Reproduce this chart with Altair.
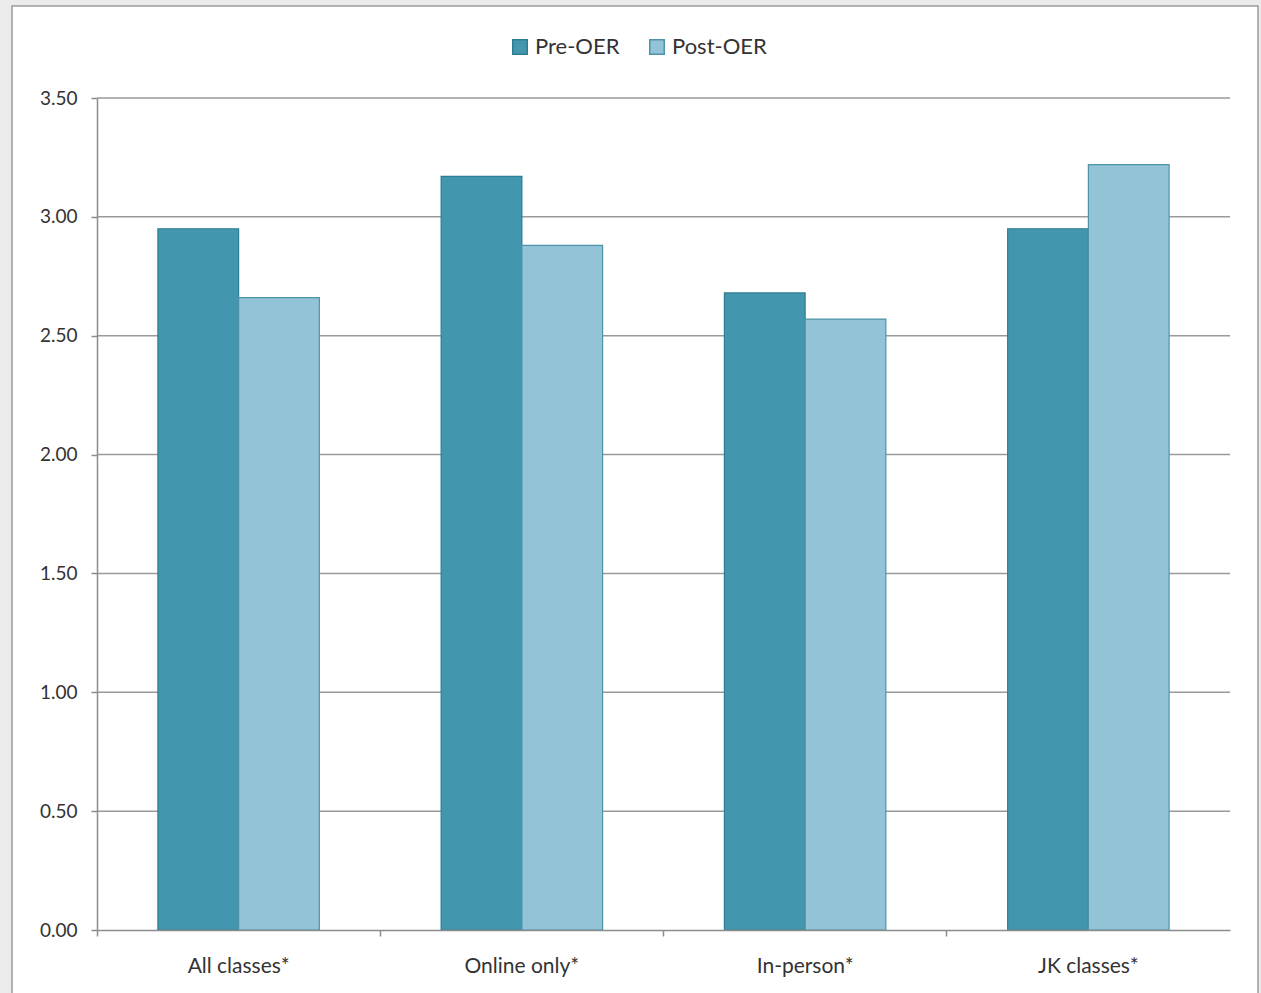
import altair as alt
import pandas as pd

categories = ["All classes*", "Online only*", "In-person*", "JK classes*"]
series = ["Pre-OER", "Post-OER"]
pre_values = [2.95, 3.17, 2.68, 2.95]
post_values = [2.66, 2.88, 2.57, 3.22]
y_ticks = [0, 0.5, 1, 1.5, 2, 2.5, 3, 3.5]

rows = []
for c, a, b in zip(categories, pre_values, post_values):
    rows.append({"category": c, "series": "Pre-OER", "value": a})
    rows.append({"category": c, "series": "Post-OER", "value": b})
df = pd.DataFrame(rows)
grid_df = pd.DataFrame({"value": y_ticks[1:]})

W, H = 1133, 832
FONT = "Lato"

frame = alt.Chart(pd.DataFrame({"a": [0]})).mark_rect(
    fill="white", stroke="#9a9a9a", strokeWidth=1.5
).encode(
    x=alt.value(-85), x2=alt.value(W + 28),
    y=alt.value(-92), y2=alt.value(H + 80),
)

yscale = alt.Scale(domain=[0, 3.5], nice=False)
yaxis = alt.Axis(title=None, values=y_ticks,
                 format=".2f", labelFontSize=19, labelColor="#333333",
                 labelFont=FONT, domainColor="#8c8c8c", domainWidth=1.5,
                 tickColor="#8c8c8c", tickSize=6, tickWidth=1.5,
                 labelPadding=14, grid=False, zindex=1)

grid = alt.Chart(grid_df).mark_rule(color="#9a9a9a", strokeWidth=1.5).encode(
    y=alt.Y("value:Q", scale=yscale, axis=yaxis),
    x=alt.value(0), x2=alt.value(W),
)

pi = 0.43
step = W / 4
bw = step * (1 - pi)
band_pos = 0.5 - step / (2 * bw)

bars = alt.Chart(df).mark_bar(strokeWidth=1.2).encode(
    x=alt.X("category:N", sort=categories,
            scale=alt.Scale(paddingInner=pi, paddingOuter=pi / 2),
            axis=alt.Axis(title=None, labelAngle=0, bandPosition=band_pos,
                          labelFontSize=21, labelColor="#333333", labelFont=FONT,
                          domainColor="#8c8c8c", domainWidth=1.5,
                          tickColor="#8c8c8c", tickSize=6, tickWidth=1.5,
                          labelPadding=19, grid=False, zindex=1)),
    xOffset=alt.XOffset("series:N", sort=series),
    y=alt.Y("value:Q", scale=yscale, axis=yaxis),
    color=alt.Color("series:N", sort=series,
                    scale=alt.Scale(domain=series, range=["#4296AE", "#93C3D6"]),
                    legend=alt.Legend(title=None, orient="none", direction="horizontal",
                                      legendX=412, legendY=-62,
                                      symbolType="square", symbolSize=210,
                                      symbolStrokeWidth=1.5,
                                      labelFontSize=22, labelFont=FONT,
                                      labelColor="#333333", columnPadding=26)),
    stroke=alt.Stroke("series:N", sort=series,
                      scale=alt.Scale(domain=series, range=["#2E7D93", "#4E93A8"]),
                      legend=None),
)

chart = alt.layer(frame, grid, bars).properties(
    width=W, height=H,
    background="#ebebeb",
    padding={"left": 97, "top": 98, "right": 31, "bottom": 63},
    autosize=alt.AutoSizeParams(type="none"),
).configure_view(stroke=None)

chart.save("out.html", embed_options={"renderer": "svg", "actions": False})
